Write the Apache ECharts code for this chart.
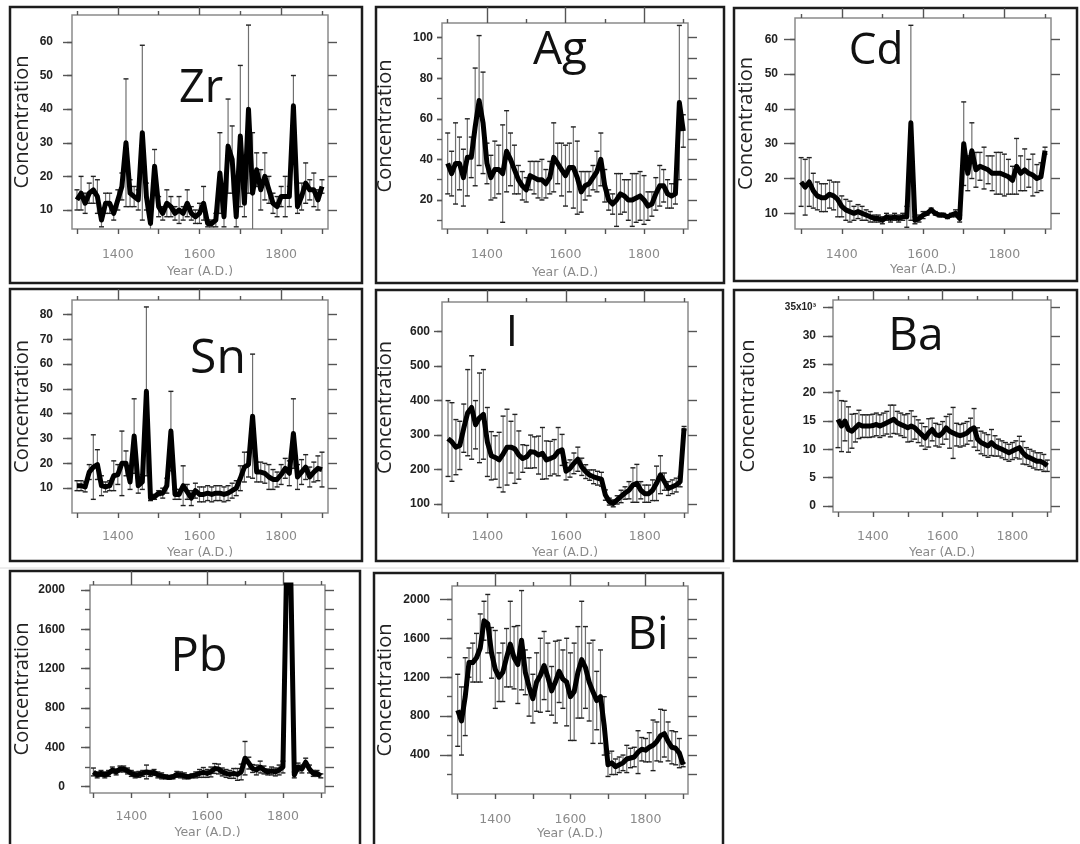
<!DOCTYPE html>
<html>
<head>
<meta charset="utf-8">
<script src="https://cdn.jsdelivr.net/npm/echarts@6/dist/echarts.min.js"></script>
<style>
  html, body { margin: 0; padding: 0; background: #fff; }
  #chart { width: 1080px; height: 844px; }
</style>
</head>
<body>
<div id="chart"></div>
<script>
// sample years, every decade
const years = [1300,1310,1320,1330,1340,1350,1360,1370,1380,1390,1400,1410,1420,1430,1440,1450,1460,1470,1480,1490,
  1500,1510,1520,1530,1540,1550,1560,1570,1580,1590,1600,1610,1620,1630,1640,1650,1660,1670,1680,1690,
  1700,1710,1720,1730,1740,1750,1760,1770,1780,1790,1800,1810,1820,1830,1840,1850,1860,1870,1880,1890,1900]
const yearTicks = [1300, 1400, 1500, 1600, 1700, 1800, 1900]
const yearLabels = [1400, 1600, 1800]
const topShortTicks = [1300, 1500, 1700, 1900]
const topLongTicks = [1400, 1600, 1800]

const zr = [13,15,12,15,16,14,7,12,12,9,13,17,30,15,14,13,33,14,6,23,
  11,9,12,11,9,10,9,12,9,8,9,12,6,6,7,21,8,29,25,8,
  32,12,40,15,22,16,20,16,12,11,14,14,14,41,11,14,18,16,16,13,17]
const zrErr = [3,5,3,3,4,5,2,3,3,2,3,4,19,4,3,3,26,4,2,5,
  3,2,4,3,2,4,2,4,2,2,3,5,1,1,2,12,3,14,10,3,
  21,4,25,18,5,6,7,4,3,3,3,6,3,9,2,4,6,3,5,3,2]

const ag = [38,33,38,38,31,41,41,56,69,58,38,31,35,35,33,44,40,35,30,27,
  25,32,31,30,30,28,31,41,38,35,32,36,36,31,24,27,28,31,34,40,
  27,20,18,20,23,22,20,20,21,22,20,17,18,23,27,27,23,22,23,68,54]
const agErr = [15,11,20,13,14,19,10,29,32,25,10,11,14,12,24,20,13,12,7,7,
  6,7,8,9,10,7,8,17,10,13,15,12,20,18,10,7,6,6,10,13,
  8,5,5,13,10,8,10,13,12,12,12,7,6,8,10,8,7,6,5,38,8]

const cd = [19,17.5,19,16.5,15,14.5,14.5,15.5,15,14,12,11,10.5,10,10.5,10,9.5,9,8.5,8.5,
  8,9,8.5,9,8.5,9,9,36,8,8.5,9.5,10,11,10,9.5,9.5,9,9.5,10,8.5,
  30,21.5,28,22.5,23.5,23,22.5,21.5,21.5,21.5,21,20.5,19.5,23.5,21.5,22.5,21.5,21,20,20.5,28]
const cdErr = [7,8,7,5,4,4,4,4,4,5,3,3,3,2,2,2,1.5,1.5,1,1,
  1,1,1,1,1,1,3,28,1,1,1,0.5,0.5,0.5,0.5,0.5,0.5,0.5,1,1,
  12,5,8,5,4,6,4,5,6,6,6,5,4,8,5,6,4,6,4,4,1]

const sn = [11,11,10.5,16.5,18.5,19.5,11,10.5,11,15,15.5,20,20,12.5,31,11,12.5,49,6,6.5,
  8,8,11,33,7.5,7.5,11,8.5,6,9,7.5,7.5,8,7.5,8,8,7.5,8,9,10,
  14,18.5,19.5,39,16.5,16.5,16,14.5,13.5,13.5,15.5,18,16,32,14.5,16.5,18.5,14.5,16.5,18,17.5]
const snErr = [2,2,2,3,13,6,4,2,2,6,4,13,5,3,15,3,3,34,1,1,
  1,2,3,16,2,2,8,3,3,3,3,3,3,3,3,3,3,3,3,3,
  5,6,5,25,4,4,4,5,4,3,4,4,5,14,5,5,5,4,4,5,7]

const iod = [290,280,265,270,320,365,380,330,350,360,280,240,235,228,245,265,265,260,242,232,
  237,252,250,242,247,228,232,237,252,257,195,203,218,230,208,194,184,179,175,172,
  126,107,102,112,122,132,140,155,160,140,130,130,140,160,185,165,145,150,155,165,320]
const iodErr = [110,114,80,70,70,125,150,70,130,130,100,70,63,80,110,110,75,100,70,40,
  33,48,45,55,75,55,50,50,70,45,25,25,30,35,25,20,15,20,20,20,
  15,10,10,12,18,18,25,50,55,25,25,25,30,50,55,25,20,20,20,15,5]

const ba = [15.3,14.1,15,13.5,13.2,13.8,14.4,14.1,14.1,14.1,14.2,14.4,14.1,14.4,14.7,15,15.3,14.7,14.4,14.1,
  13.8,14.1,13.8,13.2,12.6,12,12.9,13.5,12.6,12.4,12.9,13.8,13.2,12.9,12.6,12.4,12.6,12.9,13.5,13.8,
  11.8,11.2,10.9,10.6,11.2,10.6,10.3,10,9.7,9.4,9.7,10,10.3,9.4,8.8,8.5,8.2,7.9,7.9,7.6,7.1]
const baErr = [5,4.5,3.5,4,3,2.5,2.5,2,2,2,2,2,2,2,2,2.8,2.5,2,2,2,
  2.5,2.7,2,2,2,2,2.5,2,2,2,2,2,3,4.5,2,2,2,2,2,3.4,
  2,2,2,2,2.3,1.8,1.5,1.5,1.5,1.5,1.5,1.5,2,2,1.5,1.5,1.5,1.5,1.5,1.5,1]

const pb = [150,120,135,120,135,170,150,180,180,160,135,120,125,135,150,135,145,120,110,100,
  95,100,125,120,110,100,110,120,135,145,135,150,185,180,150,135,125,135,125,150,
  290,240,185,170,200,170,150,160,150,170,200,2300,2300,120,200,180,250,180,135,135,110]
const pbErr = [40,30,30,30,30,30,30,30,30,30,30,30,30,30,70,30,30,30,30,20,
  20,20,30,30,30,20,20,30,40,50,40,50,50,50,40,40,40,50,60,80,
  170,60,40,50,60,40,30,40,40,50,60,0,0,30,40,40,40,40,30,30,20]

const bi = [860,750,1000,1350,1350,1400,1500,1780,1750,1450,1280,1200,1250,1400,1540,1400,1330,1580,1250,1100,
  980,1150,1220,1320,1200,1060,1150,1260,1180,1150,1000,1050,1250,1380,1300,1150,1050,960,1000,700,
  300,320,280,300,320,360,370,380,430,460,450,480,500,540,600,620,540,480,470,420,300]
const biErr = [370,350,400,150,200,250,350,200,300,260,400,250,300,300,440,320,400,510,230,300,
  250,300,380,350,350,250,420,320,300,450,450,500,470,600,420,400,530,300,480,300,
  120,120,80,80,80,140,100,100,220,120,120,150,260,200,270,240,200,170,170,150,20]

// y tick labels and tick marks per panel
const zrLabels = [10,20,30,40,50,60]
const agLabels = [20,40,60,80,100]
const agTicks = [10,20,30,40,50,60,70,80,90,100]
const cdLabels = [10,20,30,40,50,60]
const snLabels = [10,20,30,40,50,60,70,80]
const iodLabels = [100,200,300,400,500,600]
const baLabels = [0,5,10,15,20,25,30,35]
const pbLabels = [0,400,800,1200,1600,2000]
const pbTicks = [0,200,400,600,800,1000,1200,1400,1600,1800,2000]
const biLabels = [400,800,1200,1600,2000]
const biTicks = [200,400,600,800,1000,1200,1400,1600,1800,2000]

// layout: box = outer frame, grid = plot frame [left, top, width, height]
const panels = [
  { tag: 'Zr', v: zr, e: zrErr, labels: zrLabels, ticks: zrLabels, box: [10, 7, 352, 276], grid: [72, 15, 256, 214],
    x: [1287.8, 1914.7], y: [4.35, 68], lm: 19, tl: 9, ng: 40, xm: 19, xg: 36, topLong: 8, tagPos: [201, 86], tagSize: 45 },
  { tag: 'Ag', v: ag, e: agErr, labels: agLabels, ticks: agTicks, box: [376, 7, 348, 276], grid: [442, 23, 246, 206],
    x: [1285.5, 1912], y: [5.7, 107.2], lm: 9, tl: 5, ng: 47, xm: 19, xg: 37, topLong: 16, tagPos: [560, 48], tagSize: 46 },
  { tag: 'Cd', v: cd, e: cdErr, labels: cdLabels, ticks: cdLabels, box: [734, 8, 343, 273], grid: [795, 18, 256, 211],
    x: [1285, 1914.7], y: [5.5, 66.1], lm: 17, tl: 11, ng: 39, xm: 19, xg: 34, topLong: 10, tagPos: [876, 48], tagSize: 44 },
  { tag: 'Sn', v: sn, e: snErr, labels: snLabels, ticks: snLabels, box: [10, 289, 352, 272], grid: [72, 300, 256, 213],
    x: [1287.8, 1914.7], y: [0, 85.8], lm: 19, tl: 9, ng: 40, xm: 17, xg: 33, topLong: 11, tagPos: [218, 356], tagSize: 48 },
  { tag: 'I', v: iod, e: iodErr, labels: iodLabels, ticks: iodLabels, box: [376, 290, 347, 271], grid: [442, 302, 246, 211],
    x: [1284.7, 1910], y: [74, 686], lm: 12, tl: 8, ng: 47, xm: 17, xg: 33, topLong: 12, tagPos: [512, 330], tagSize: 44 },
  { tag: 'Ba', v: ba, e: baErr, labels: baLabels, ticks: baLabels, box: [734, 290, 343, 271], grid: [833, 300, 218, 212],
    x: [1285.7, 1910.6], y: [-1.06, 36.36], lm: 17, tl: 10, ng: 75, xm: 18, xg: 34, topLong: 10, tagPos: [916, 334], tagSize: 46 },
  { tag: 'Pb', v: pb, e: pbErr, labels: pbLabels, ticks: pbTicks, box: [10, 571, 350, 290], grid: [90, 585, 235, 208],
    x: [1291, 1911], y: [-64, 2051], lm: 25, tl: 9, ng: 58, xm: 17, xg: 33, topLong: 14, tagPos: [199, 655], tagSize: 47 },
  { tag: 'Bi', v: bi, e: biErr, labels: biLabels, ticks: biTicks, box: [374, 573, 349, 290], grid: [452, 586, 236, 208],
    x: [1284.8, 1913], y: [0, 2137], lm: 22, tl: 12, ng: 57, xm: 19, xg: 32, topLong: 13, tagPos: [648, 633], tagSize: 46 },
]

const tickStyle = { color: '#555', width: 1.4 }
const yLabelStyle = { color: '#222', fontSize: 12, fontWeight: 'bold', fontFamily: 'Liberation Sans' }
const xLabelStyle = { color: '#8a8a8a', fontSize: 12.5, fontFamily: 'DejaVu Sans' }

const grid = [], xAxis = [], yAxis = [], series = [], graphic = []

function plainAxis(extra) {
  return Object.assign({
    type: 'value',
    axisLine: { show: false, onZero: false },
    splitLine: { show: false },
    axisLabel: { show: false },
  }, extra)
}

panels.forEach((p, i) => {
  grid.push({
    left: p.grid[0], top: p.grid[1], width: p.grid[2], height: p.grid[3],
    show: true, borderColor: '#8a8a8a', borderWidth: 1.5,
  })

  const xi = xAxis.length
  xAxis.push(plainAxis({
    gridIndex: i, min: p.x[0], max: p.x[1], position: 'bottom',
    axisTick: { customValues: yearTicks, length: 5, lineStyle: tickStyle },
    axisLabel: Object.assign({ show: true, customValues: yearLabels, margin: p.xm, formatter: (v) => String(v) }, xLabelStyle),
    name: 'Year (A.D.)', nameLocation: 'middle', nameGap: p.xg, nameTextStyle: xLabelStyle,
  }))
  xAxis.push(plainAxis({
    gridIndex: i, min: p.x[0], max: p.x[1], position: 'top',
    axisTick: { customValues: topShortTicks, length: 4, lineStyle: tickStyle },
  }))
  xAxis.push(plainAxis({
    gridIndex: i, min: p.x[0], max: p.x[1], position: 'top',
    axisTick: { customValues: topLongTicks, length: p.topLong, lineStyle: tickStyle },
  }))

  const yi = yAxis.length
  yAxis.push(plainAxis({
    gridIndex: i, min: p.y[0], max: p.y[1], position: 'left',
    axisTick: { customValues: p.labels, length: p.tl, lineStyle: tickStyle },
    axisLabel: Object.assign({
      show: true, customValues: p.labels, margin: p.lm,
      formatter: (v) => (p.tag === 'Ba' && v === 35 ? '{s|35x10³}' : String(v)),
      rich: { s: { fontSize: 10, fontWeight: 'bold', fontFamily: 'Liberation Sans', color: '#222' } },
    }, yLabelStyle),
    name: 'Concentration', nameLocation: 'middle', nameGap: p.ng,
    nameTextStyle: { fontFamily: 'Open Sans', fontSize: 20, color: '#222' },
  }))
  yAxis.push(plainAxis({
    gridIndex: i, min: p.y[0], max: p.y[1], position: 'left',
    axisTick: { customValues: p.ticks, length: 5, lineStyle: tickStyle },
  }))
  yAxis.push(plainAxis({
    gridIndex: i, min: p.y[0], max: p.y[1], position: 'right',
    axisTick: { customValues: p.ticks, length: 9, lineStyle: tickStyle },
  }))

  series.push({
    type: 'custom',
    xAxisIndex: xi, yAxisIndex: yi,
    clip: true,
    silent: true,
    z: 2,
    data: years.map((yr, j) => [yr, p.v[j] - p.e[j], p.v[j] + p.e[j]]),
    encode: { x: 0, y: [1, 2] },
    renderItem: (params, api) => {
      const x = api.value(0)
      const lo = api.coord([x, api.value(1)])
      const hi = api.coord([x, api.value(2)])
      const cw = 2.5
      return {
        type: 'group',
        children: [
          { type: 'line', shape: { x1: lo[0], y1: lo[1], x2: hi[0], y2: hi[1] }, style: { stroke: '#707070', lineWidth: 1.2 } },
          { type: 'line', shape: { x1: hi[0] - cw, y1: hi[1], x2: hi[0] + cw, y2: hi[1] }, style: { stroke: '#222', lineWidth: 1.4 } },
          { type: 'line', shape: { x1: lo[0] - cw, y1: lo[1], x2: lo[0] + cw, y2: lo[1] }, style: { stroke: '#222', lineWidth: 1.4 } },
        ],
      }
    },
  })
  series.push({
    type: 'line',
    xAxisIndex: xi, yAxisIndex: yi,
    data: years.map((yr, j) => [yr, p.v[j]]),
    showSymbol: false,
    silent: true,
    z: 3,
    lineStyle: { color: '#000', width: 5, join: 'round' },
    itemStyle: { color: '#000' },
  })

  graphic.push({
    type: 'rect',
    shape: { x: p.box[0], y: p.box[1], width: p.box[2], height: p.box[3] },
    style: { fill: 'none', stroke: '#1c1c1c', lineWidth: 2.5 },
    silent: true,
  })
  graphic.push({
    type: 'text',
    x: p.tagPos[0], y: p.tagPos[1] + 3,
    z: 10,
    silent: true,
    style: {
      text: p.tag, fontSize: p.tagSize, fontFamily: 'Open Sans', fill: '#111',
      font: p.tagSize + "px 'Open Sans'",
      textAlign: 'center', textVerticalAlign: 'middle', align: 'center', verticalAlign: 'middle',
    },
  })
})

graphic.push({
  type: 'line',
  shape: { x1: 0, y1: 568, x2: 730, y2: 568 },
  style: { stroke: '#dcdcdc', lineWidth: 1 },
  silent: true,
})

const chart = echarts.init(document.getElementById('chart'))
chart.setOption({
  animation: false,
  backgroundColor: '#fff',
  grid, xAxis, yAxis, series, graphic,
})
</script>
</body>
</html>
